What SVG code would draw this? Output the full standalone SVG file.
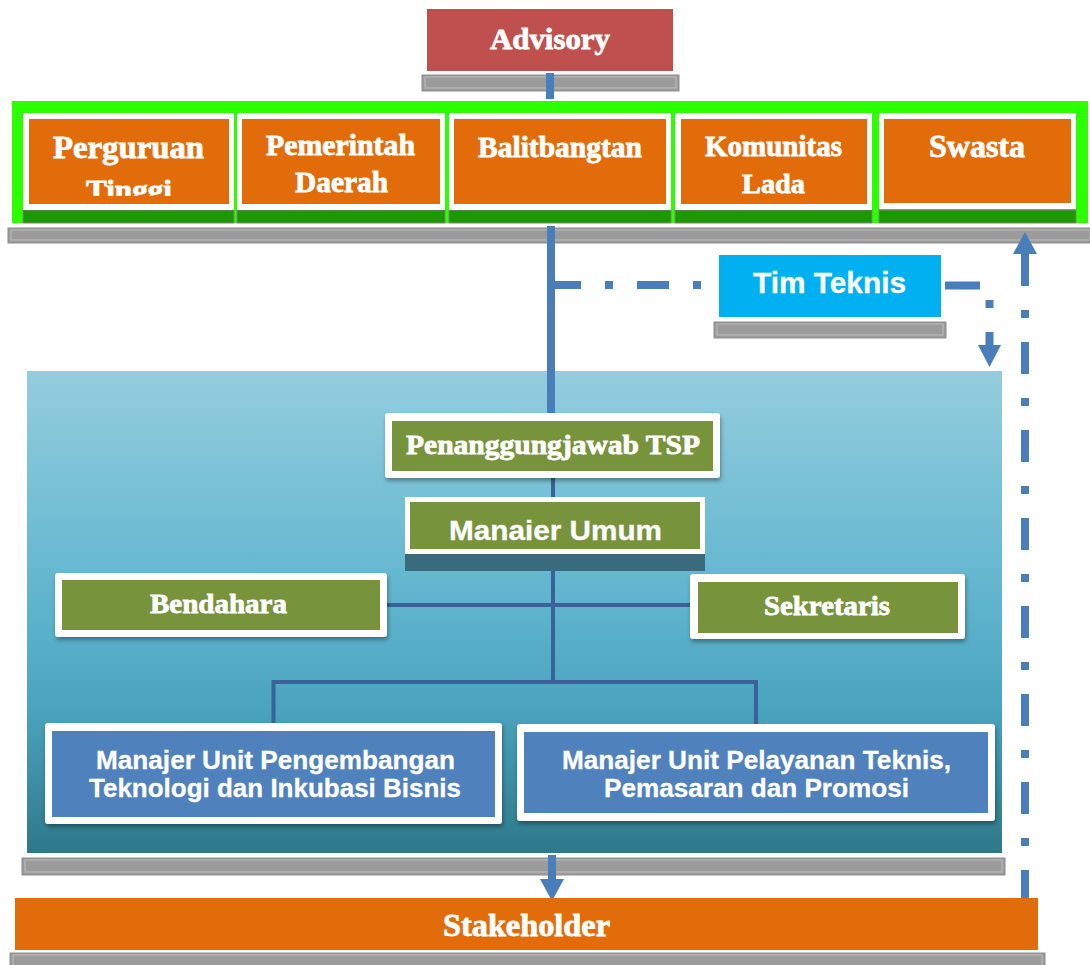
<svg xmlns="http://www.w3.org/2000/svg" width="1090" height="965" viewBox="0 0 1090 965">
<defs>
<linearGradient id="panelGrad" x1="0" y1="0" x2="0" y2="1">
<stop offset="0" stop-color="#94CDDE"/>
<stop offset="0.45" stop-color="#62B6CF"/>
<stop offset="0.7" stop-color="#4AA4BF"/>
<stop offset="1" stop-color="#2E7889"/>
</linearGradient>
<filter id="sh" x="-5%" y="-10%" width="112%" height="135%">
<feDropShadow dx="1" dy="3" stdDeviation="2" flood-color="#000" flood-opacity="0.35"/>
</filter>
<clipPath id="clipTinggi"><rect x="28" y="119" width="202" height="77"/></clipPath>
</defs>
<style>
.gray{fill:#9B9B9B;stroke:#8C8C8C;stroke-width:1}
.grayin{fill:none;stroke:#BEBEBE;stroke-width:1}
.orange{fill:#E36C0A}
.frame{fill:#FFFFFF}
.dkgreen{fill:#1E9800;stroke:#808080;stroke-width:1}
.olive{fill:#77933C}
.bluebox{fill:#4F81BD}
.serif{font-family:"Liberation Serif","Times New Roman",serif;font-weight:bold;fill:#FFFFFF;stroke:#FFFFFF;stroke-width:0.8;text-anchor:middle}
.sans{font-family:"Liberation Sans",Arial,sans-serif;font-weight:bold;fill:#FFFFFF;stroke:#FFFFFF;stroke-width:0.3;text-anchor:middle}
.conn{stroke:#4A7EBB;fill:none;stroke-width:8}
.inner{stroke:#3A6299;stroke-width:4;fill:none}
.arrow{fill:#4A7EBB}
</style>

<!-- background bars and containers -->
<g id="backgrounds">
  <rect class="gray" x="422" y="75" width="257" height="16"/>
  <rect class="grayin" x="425" y="77" width="251" height="11"/>
  <rect x="12" y="101" width="1076" height="122" fill="#2BFF00"/>
  <rect class="gray" x="8" y="228" width="1082" height="15"/>
  <rect class="grayin" x="11" y="230" width="1079" height="10"/>
  <rect class="gray" x="714" y="322" width="232" height="16"/>
  <rect class="grayin" x="717" y="324" width="226" height="11"/>
  <rect x="27" y="371" width="975" height="482" fill="url(#panelGrad)"/>
  <rect class="gray" x="22" y="858" width="983" height="17"/>
  <rect class="grayin" x="25" y="860" width="977" height="12"/>
  <rect class="gray" x="10" y="953" width="1035" height="13"/>
  <rect class="grayin" x="13" y="955" width="1029" height="12"/>
</g>

<g id="connectors">
  <line class="conn" x1="550" y1="73" x2="550" y2="99"/>
  <line class="conn" x1="551" y1="226" x2="551" y2="418"/>
  <path class="conn" d="M551,285 H719" stroke-dasharray="30 24 8 24 32 24 8 24"/>
  <path class="conn" d="M945,285.5 H989.5 V345" stroke-dasharray="35 24 8 24 40"/>
  <polygon class="arrow" points="978,345 1001,345 989.5,367"/>
  <path class="conn" d="M1025,254 V903" stroke-dasharray="32 24 8 24"/>
  <polygon class="arrow" points="1013,254 1037,254 1025,232"/>
  <line class="conn" x1="552" y1="855" x2="552" y2="880"/>
  <polygon class="arrow" points="540,879 564,879 552,901"/>
  <line class="inner" x1="553" y1="477" x2="553" y2="682"/>
  <line class="inner" x1="387" y1="605" x2="690" y2="605"/>
  <path class="inner" d="M273.5,723 V682 H756 V724"/>
</g>

<g id="advisory">
  <rect x="427" y="9" width="246" height="62" fill="#C0504D"/>
  <text class="serif" x="550" y="49" font-size="30" textLength="120" lengthAdjust="spacingAndGlyphs">Advisory</text>
</g>

<g id="perguruan-tinggi">
  <rect class="dkgreen" x="23" y="210" width="211" height="13"/>
  <rect class="frame" x="23" y="113" width="211" height="97"/>
  <rect class="orange" x="29" y="119" width="200" height="85"/>
  <text class="serif" x="128.5" y="158" font-size="31" textLength="151" lengthAdjust="spacingAndGlyphs">Perguruan</text>
  <text class="serif" x="129" y="199" font-size="28" textLength="86" lengthAdjust="spacingAndGlyphs" clip-path="url(#clipTinggi)">Tinggi</text>
</g>

<g id="pemerintah-daerah">
  <rect class="dkgreen" x="237" y="210" width="208" height="13"/>
  <rect class="frame" x="237" y="113" width="208" height="97"/>
  <rect class="orange" x="242" y="119" width="198" height="85"/>
  <text class="serif" x="340.5" y="155" font-size="29" textLength="149" lengthAdjust="spacingAndGlyphs">Pemerintah</text>
  <text class="serif" x="341.5" y="192" font-size="29" textLength="93" lengthAdjust="spacingAndGlyphs">Daerah</text>
</g>

<g id="balitbangtan">
  <rect class="dkgreen" x="449" y="210" width="222" height="13"/>
  <rect class="frame" x="449" y="113" width="222" height="97"/>
  <rect class="orange" x="454" y="119" width="212" height="85"/>
  <text class="serif" x="560" y="157" font-size="29" textLength="164" lengthAdjust="spacingAndGlyphs">Balitbangtan</text>
</g>

<g id="komunitas-lada">
  <rect class="dkgreen" x="675" y="210" width="197" height="13"/>
  <rect class="frame" x="675" y="113" width="197" height="97"/>
  <rect class="orange" x="681" y="119" width="186" height="85"/>
  <text class="serif" x="773.5" y="156" font-size="29" textLength="137" lengthAdjust="spacingAndGlyphs">Komunitas</text>
  <text class="serif" x="773.5" y="193" font-size="28" textLength="63" lengthAdjust="spacingAndGlyphs">Lada</text>
</g>

<g id="swasta">
  <rect class="dkgreen" x="879" y="210" width="197" height="13"/>
  <rect class="frame" x="879" y="113" width="197" height="96"/>
  <rect class="orange" x="884" y="119" width="187" height="84"/>
  <text class="serif" x="977" y="157" font-size="31" textLength="96" lengthAdjust="spacingAndGlyphs">Swasta</text>
</g>

<g id="tim-teknis">
  <rect x="719" y="255" width="222" height="62" fill="#00B0F0"/>
  <text class="sans" x="829.5" y="293" font-size="29" textLength="153" lengthAdjust="spacingAndGlyphs">Tim Teknis</text>
</g>

<g id="penanggungjawab-tsp">
  <rect class="frame" x="385" y="413" width="335" height="65" rx="3" filter="url(#sh)"/>
  <rect class="olive" x="392" y="421" width="321" height="50"/>
  <text class="serif" x="553" y="454" font-size="28" textLength="294" lengthAdjust="spacingAndGlyphs">Penanggungjawab TSP</text>
</g>

<g id="manajer-umum">
  <rect x="405" y="548" width="300" height="23" fill="#386B7B"/>
  <rect class="frame" x="405" y="497" width="300" height="57"/>
  <rect class="olive" x="410" y="502" width="290" height="47"/>
  <text class="sans" x="555.5" y="540" font-size="28" textLength="213" lengthAdjust="spacingAndGlyphs">Manaier Umum</text>
</g>

<g id="bendahara">
  <rect class="frame" x="55" y="573" width="332" height="64" rx="3" filter="url(#sh)"/>
  <rect class="olive" x="62" y="580" width="318" height="50"/>
  <text class="serif" x="218.5" y="613" font-size="28" textLength="137" lengthAdjust="spacingAndGlyphs">Bendahara</text>
</g>

<g id="sekretaris">
  <rect class="frame" x="690" y="574" width="275" height="65" rx="3" filter="url(#sh)"/>
  <rect class="olive" x="698" y="582" width="260" height="51"/>
  <text class="serif" x="827" y="615" font-size="28" textLength="126" lengthAdjust="spacingAndGlyphs">Sekretaris</text>
</g>

<g id="manajer-unit-pengembangan">
  <rect class="frame" x="45" y="723" width="457" height="101" rx="3" filter="url(#sh)"/>
  <rect class="bluebox" x="52" y="731" width="443" height="86"/>
  <text class="sans" x="275.5" y="769" font-size="26" textLength="359" lengthAdjust="spacingAndGlyphs">Manajer Unit Pengembangan</text>
  <text class="sans" x="275" y="797" font-size="26" textLength="372" lengthAdjust="spacingAndGlyphs">Teknologi dan Inkubasi Bisnis</text>
</g>

<g id="manajer-unit-pelayanan">
  <rect class="frame" x="517" y="724" width="478" height="97" rx="3" filter="url(#sh)"/>
  <rect class="bluebox" x="524" y="732" width="464" height="81"/>
  <text class="sans" x="756.5" y="769" font-size="26" textLength="389" lengthAdjust="spacingAndGlyphs">Manajer Unit Pelayanan Teknis,</text>
  <text class="sans" x="756.5" y="797" font-size="26" textLength="305" lengthAdjust="spacingAndGlyphs">Pemasaran dan Promosi</text>
</g>

<g id="stakeholder">
  <rect class="orange" x="15" y="898" width="1023" height="52"/>
  <text class="serif" x="526.5" y="936" font-size="31" textLength="167" lengthAdjust="spacingAndGlyphs">Stakeholder</text>
</g>
</svg>
